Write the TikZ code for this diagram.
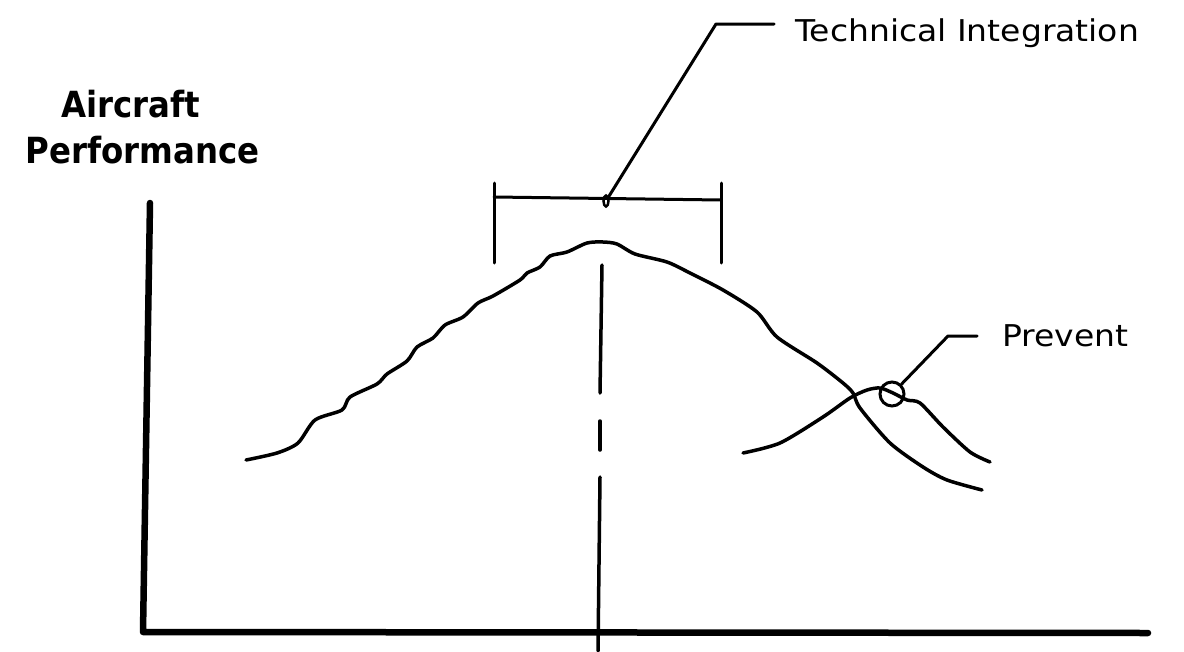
\documentclass[tikz,border=0pt]{standalone}
\usepackage{fontspec}
\setmainfont{DejaVu Sans}
\usetikzlibrary{shapes.geometric}
\begin{document}
\begin{tikzpicture}[x=1pt,y=-1pt,
  curve/.style={line width=3.5pt, line join=round, line cap=round},
  axisline/.style={line width=6.5pt, line cap=round, line join=round},
  thinline/.style={line width=3pt, line cap=round, line join=round},
  lbl/.style={font=\fontsize{30}{36}\selectfont, inner sep=0pt},
  ttl/.style={font=\fontsize{36}{40}\selectfont\bfseries, inner sep=0pt}]
\useasboundingbox (0,0) rectangle (1184,651);

% axis title
\node[ttl, anchor=base east] (ac) at (200,117) {\scalebox{0.9}[1]{Aircraft}};
\node[ttl, anchor=base east] (pf) at (260,163) {\scalebox{0.9}[1]{Performance}};

% axes
\coordinate (ytop) at (150,203);
\coordinate (orig) at (143,632);
\coordinate (xend) at (1148,633);
\draw[axisline] (ytop) -- (orig) -- (xend);

% dashed centre line
\coordinate (d1a) at (602,265); \coordinate (d1b) at (600,393);
\coordinate (d2a) at (600,421); \coordinate (d2b) at (600,450);
\coordinate (d3a) at (600,477); \coordinate (d3b) at (598,651);
\draw[curve] (d1a) -- (d1b);
\draw[curve] (d2a) -- (d2b);
\draw[curve] (d3a) -- (d3b);

% bracket
\coordinate (bl1) at (494,183); \coordinate (bl2) at (494,263);
\coordinate (br1) at (721,183); \coordinate (br2) at (721,263);
\coordinate (bm1) at (494,197); \coordinate (bm2) at (721,200);
\draw[thinline] (bl1) -- (bl2);
\draw[thinline] (br1) -- (br2);
\draw[thinline] (bm1) -- (bm2);
\node[ellipse, draw, line width=2.5pt, minimum width=5pt, minimum height=11pt, inner sep=0pt] (mark) at (606,201) {};

% Technical Integration label
\node[lbl, anchor=west] (ti) at (795,33) {\scalebox{1.1}[1]{Technical Integration}};
\coordinate (tic) at (716,24);
\coordinate (tie) at (774,24);
\draw[thinline] (mark) -- (tic) -- (tie);

% main curve
\draw[curve] plot[smooth, tension=0.45] coordinates {
 (246,460) (277,453) (298,443) (315,420) (342,410) (350,397) (377,384)
 (387,374) (407,361) (417,347) (433,338) (445,325) (463,317) (478,303)
 (493,296) (520,280) (527,273) (540,267) (550,256) (567,252) (587,243)
 (603,242) (617,244) (635,254) (667,262) (690,273) (723,290) (757,312)
 (777,337) (817,363) (843,383) (853,393) (860,408) (890,443) (923,467)
 (947,480) (982,490)};

% second curve
\draw[curve] plot[smooth, tension=0.45] coordinates {
 (743,453) (780,443) (823,417) (850,398) (867,390) (880,388) (893,393)
 (907,400) (920,403) (943,427) (970,452) (990,462)};

% Prevent label
\node[circle, draw, line width=3pt, minimum size=24pt, inner sep=0pt] (pc) at (892,394) {};
\node[lbl, anchor=west] (pv) at (1002,336) {\scalebox{1.1}[1]{Prevent}};
\coordinate (pcc) at (948,336);
\coordinate (pce) at (977,336);
\draw[thinline] (pc) -- (pcc) -- (pce);
\end{tikzpicture}
\end{document}
